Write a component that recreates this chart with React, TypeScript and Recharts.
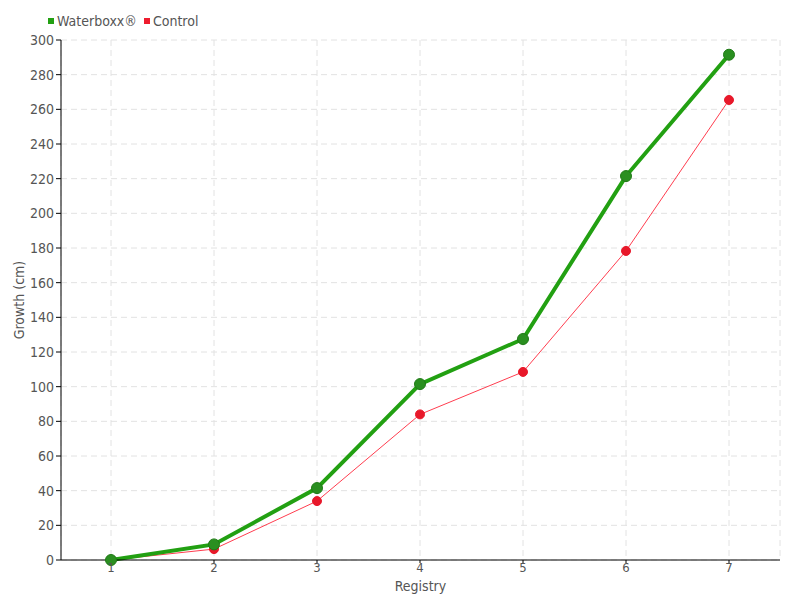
import React from 'react';
import { LineChart, Line, XAxis, YAxis, CartesianGrid, Legend } from 'recharts';

const registries = ['1', '2', '3', '4', '5', '6', '7'];
const waterboxx = [0, 9, 41.5, 101.5, 127.5, 221.5, 291.5];
const control = [0, 6.3, 34, 84, 108.5, 178.3, 265.4];
const yTicks = [0, 20, 40, 60, 80, 100, 120, 140, 160, 180, 200, 220, 240, 260, 280, 300];

const data = registries.map((r, i) => ({
  registry: r,
  waterboxx: waterboxx[i],
  control: control[i],
}));

const font = '"DejaVu Sans Condensed", "Liberation Sans Narrow", sans-serif';
const textColor = '#555';

// legend drawn by hand so it sits in the top-left corner
const renderLegend = () => (
  <div style={{ display: 'flex', alignItems: 'center', fontFamily: font, fontSize: 14, color: textColor, lineHeight: '16px' }}>
    <span style={{ width: 6, height: 6, background: '#22a012', display: 'inline-block', marginRight: 3 }} />
    <span style={{ marginRight: 7 }}>Waterboxx®</span>
    <span style={{ width: 6, height: 6, background: '#ee1c2e', display: 'inline-block', marginRight: 3 }} />
    <span>Control</span>
  </div>
);

const App: React.FC = () => {
  return (
    <div style={{ position: 'absolute', left: 0, top: 0, background: '#fff' }}>
      <LineChart width={800} height={600} data={data} margin={{ top: 24, right: 20, bottom: 4, left: 0 }}>
        <CartesianGrid stroke="#e2e2e2" strokeDasharray="6 4" />
        <XAxis
          dataKey="registry"
          padding={{ left: 50, right: 51 }}
          height={36}
          stroke="#000"
          tickSize={3}
          tickMargin={0}
          tick={{ fill: textColor, fontFamily: font, fontSize: 13 }}
          label={{ value: 'Registry', position: 'insideBottom', offset: 5, fill: textColor, fontFamily: font, fontSize: 14 }}
        />
        <YAxis
          domain={[0, 300]}
          ticks={yTicks}
          interval={0}
          width={61}
          stroke="#000"
          tickSize={5}
          tickMargin={2}
          tick={{ fill: textColor, fontFamily: font, fontSize: 14 }}
          label={{ value: 'Growth (cm)', angle: -90, position: 'insideLeft', offset: 19, fill: textColor, fontFamily: font, fontSize: 14, style: { textAnchor: 'middle' } }}
        />
        <Legend content={renderLegend} verticalAlign="top" wrapperStyle={{ position: 'absolute', top: 13, left: 48, width: 'auto' }} />
        <Line
          dataKey="control"
          name="Control"
          stroke="#ff3d4f"
          strokeWidth={1}
          dot={{ r: 4.5, fill: '#e8182a', stroke: '#e8182a', strokeWidth: 1 }}
          isAnimationActive={false}
        />
        <Line
          dataKey="waterboxx"
          name="Waterboxx®"
          stroke="#22a012"
          strokeWidth={4}
          dot={{ r: 5.5, fill: '#2a8f20', stroke: '#1f7a16', strokeWidth: 1 }}
          isAnimationActive={false}
        />
      </LineChart>
    </div>
  );
};

export default App;
